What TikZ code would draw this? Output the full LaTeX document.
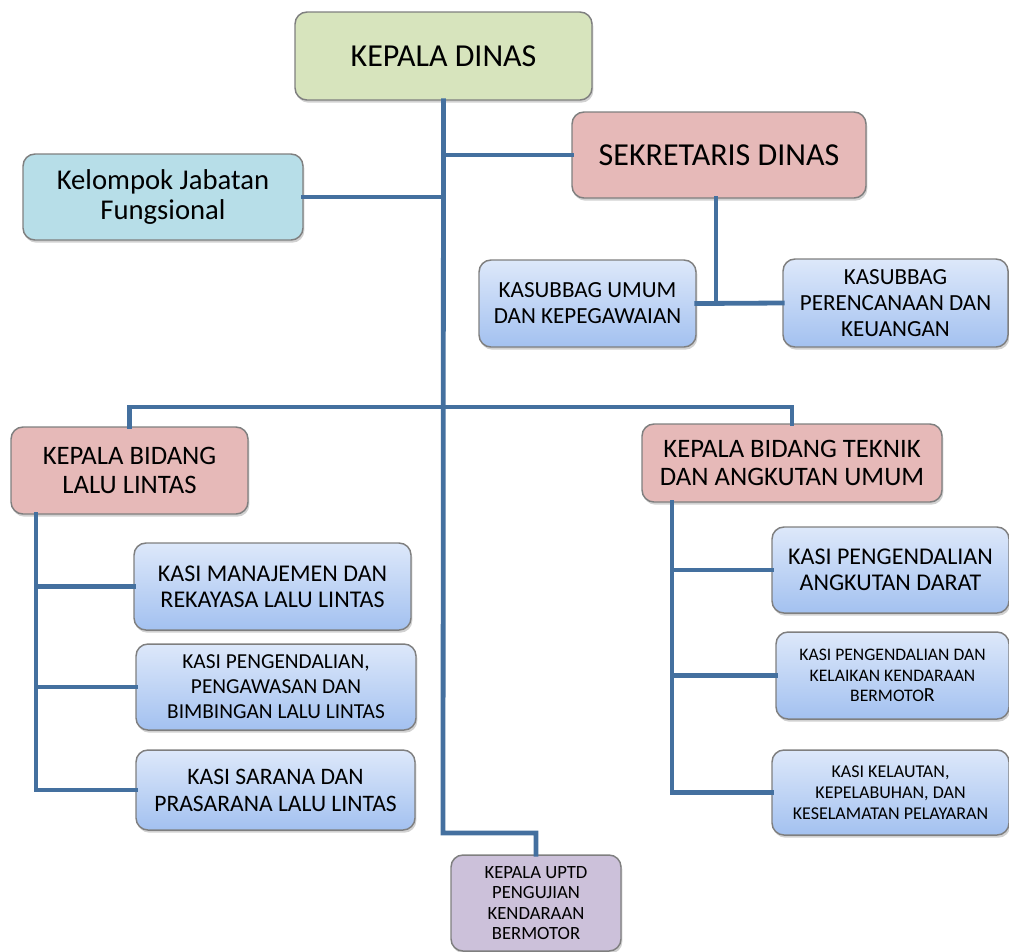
\documentclass[tikz,border=0pt]{standalone}
\usepackage{fontspec}
\setmainfont{Carlito}
\usetikzlibrary{shadows}
\definecolor{cgreen}{HTML}{D7E4BD}
\definecolor{cpink}{HTML}{E6B9B8}
\definecolor{ccyan}{HTML}{B7DEE8}
\definecolor{cpurple}{HTML}{CCC1DA}
\definecolor{cbluetop}{HTML}{DDE8FA}
\definecolor{cbluebot}{HTML}{A3C1F0}
\definecolor{cline}{HTML}{44709F}
\definecolor{cborder}{HTML}{7F7F7F}
\tikzset{
  box/.style={draw=cborder, line width=1.1pt, rounded corners=9pt, align=center,
    inner sep=2pt, text=black,
    drop shadow={shadow xshift=1pt, shadow yshift=-2pt, opacity=0.3, fill=black!60}},
  wh/.style 2 args={minimum width=#1*0.75pt, minimum height=#2*0.75pt},
  fsz/.style 2 args={font=\fontsize{#1}{#2}\selectfont},
  bluebox/.style={box, top color=cbluetop, bottom color=cbluebot},
  conn/.style={draw=cline, line width=3.6pt, line cap=rect},
}
\begin{document}
\begin{tikzpicture}[x=0.75pt,y=-0.75pt]
\useasboundingbox (0,0) rectangle (1009,951);
% nodes
\node[box, fill=cgreen, wh={297}{88}, fsz={24}{26}] (kd) at (443.5,56) {KEPALA DINAS};
\node[box, fill=cpink, wh={294}{86}, fsz={24}{26}] (sek) at (719,155) {SEKRETARIS DINAS};
\node[box, fill=ccyan, wh={280}{86}, fsz={21.5}{23}] (kjf) at (163,197) {Kelompok Jabatan\\Fungsional};
\node[bluebox, wh={217}{87}, fsz={17.3}{19.5}] (kum) at (587.5,303.5) {KASUBBAG UMUM\\DAN KEPEGAWAIAN};
\node[bluebox, wh={225}{88}, fsz={17.3}{19.5}] (kp) at (895.5,303) {KASUBBAG\\PERENCANAAN DAN\\KEUANGAN};
\node[box, fill=cpink, wh={237}{87}, fsz={20}{21.8}] (bl) at (129.5,470.5) {KEPALA BIDANG\\LALU LINTAS};
\node[box, fill=cpink, wh={300}{78}, fsz={20}{21}] (bt) at (792,463) {KEPALA BIDANG TEKNIK\\DAN ANGKUTAN UMUM};
\node[bluebox, wh={277}{87}, fsz={18}{19.5}] (k1) at (272.5,586.5) {KASI MANAJEMEN DAN\\REKAYASA LALU LINTAS};
\node[bluebox, wh={280}{86}, fsz={16}{18.7}] (k2) at (276,687) {KASI PENGENDALIAN,\\PENGAWASAN DAN\\BIMBINGAN LALU LINTAS};
\node[bluebox, wh={279}{80}, fsz={17.7}{20.2}] (k3) at (275.5,790) {KASI SARANA DAN\\PRASARANA LALU LINTAS};
\node[bluebox, wh={237}{86}, fsz={18}{19.5}] (r1) at (890.5,570) {KASI PENGENDALIAN\\ANGKUTAN DARAT};
\node[bluebox, wh={233}{87}, fsz={13.2}{15.4}] (r2) at (892.5,675.5) {KASI PENGENDALIAN DAN\\KELAIKAN KENDARAAN\\BERMOTO{\fontsize{15}{15.4}\selectfont R}};
\node[bluebox, wh={237}{85}, fsz={13.5}{15.8}] (r3) at (890.5,792.5) {KASI KELAUTAN,\\KEPELABUHAN, DAN\\KESELAMATAN PELAYARAN};
\node[box, fill=cpurple, wh={170}{96}, fsz={14}{15.4}] (uptd) at (536,903) {KEPALA UPTD\\PENGUJIAN\\KENDARAAN\\BERMOTOR};
% helper coordinates
\coordinate (trunkend) at (443,833);
\coordinate (sj) at (716,302);
\coordinate (hb) at (443,407);
\coordinate (lv) at (36,514);
\coordinate (rv) at (672,502);
% connectors
\draw[conn] (kd.south) -- (trunkend) -| (uptd.north);
\draw[conn] (sek.west) -- (sek.west -| kd.south);
\draw[conn] (kjf.east) -- (kjf.east -| kd.south);
\draw[conn] (sj |- sek.south) -- (sj);
\draw[conn] (kum.east) -- (kp.west);
\draw[conn] (bl.north) |- (hb) -| (bt.north);
\draw[conn] (lv) |- (k3.west);
\draw[conn] (lv |- k1.west) -- (k1.west);
\draw[conn] (lv |- k2.west) -- (k2.west);
\draw[conn] (rv) |- (r3.west);
\draw[conn] (rv |- r1.west) -- (r1.west);
\draw[conn] (rv |- r2.west) -- (r2.west);
\end{tikzpicture}
\end{document}
